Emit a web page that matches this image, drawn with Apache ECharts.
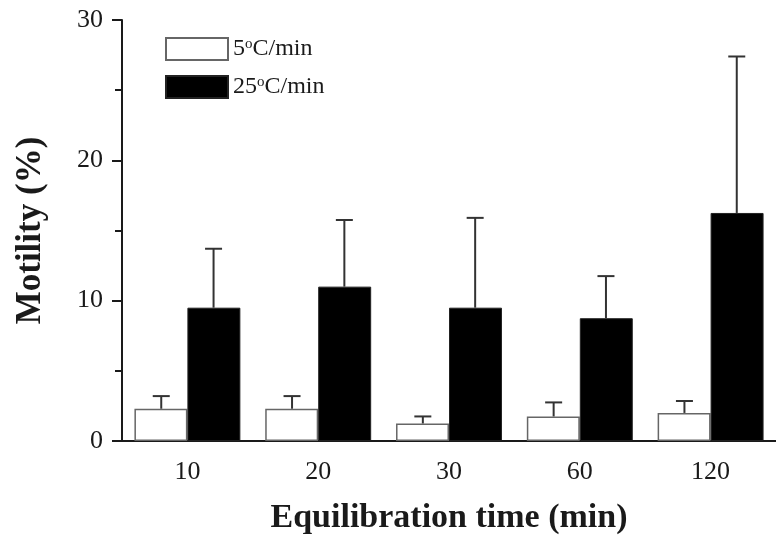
<!DOCTYPE html>
<html>
<head>
<meta charset="utf-8">
<script src="https://cdn.jsdelivr.net/npm/echarts@6/dist/echarts.min.js"></script>
<style>
  html, body { margin: 0; padding: 0; background: #fff; }
  #chart { width: 776px; height: 542px; }
</style>
</head>
<body>
<div id="chart"></div>
<script>
// 平衡时间 (min)
var categories = ['10', '20', '30', '60', '120'];
// 5°C/min
var slowMean = [2.3, 2.3, 1.25, 1.75, 2.0];
var slowSd = [0.9, 0.9, 0.5, 1.0, 0.85];
// 25°C/min
var fastMean = [9.5, 11.0, 9.5, 8.75, 16.25];
var fastSd = [4.2, 4.75, 6.4, 3.0, 11.15];

var font = '"Liberation Serif", "Times New Roman", serif';
var ink = '#1a1a1a';

// 误差线, 只画上半部分
function errorSeries(mean, sd, side) {
    return {
        type: 'custom',
        xAxisIndex: 0,
        silent: true,
        z: 5,
        data: mean.map(function (m, i) { return [i, m, m + sd[i]]; }),
        renderItem: function (params, api) {
            var band = api.size([1, 0])[0];
            var base = api.coord([api.value(0), api.value(1)]);
            var top = api.coord([api.value(0), api.value(2)]);
            var x = base[0] + side * band * 0.2;
            var cap = 8.5;
            var style = {stroke: '#333', lineWidth: 2};
            return {
                type: 'group',
                children: [
                    {type: 'line', shape: {x1: x, y1: base[1], x2: x, y2: top[1]}, style: style},
                    {type: 'line', shape: {x1: x - cap, y1: top[1], x2: x + cap, y2: top[1]}, style: style}
                ]
            };
        }
    };
}

var chart = echarts.init(document.getElementById('chart'));
chart.setOption({
    backgroundColor: '#fff',
    animation: false,
    grid: {left: 122, right: -5, top: 20, bottom: 101},
    legend: {
        left: 165,
        top: 37,
        padding: 0,
        orient: 'vertical',
        itemWidth: 62,
        itemHeight: 22,
        itemGap: 12,
        icon: 'rect',
        data: ['5°C/min', '25°C/min'],
        formatter: function (name) {
            return name === '5°C/min' ? '{n|5}{s|o}{n|C/min}' : '{n|25}{s|o}{n|C/min}';
        },
        textStyle: {
            rich: {
                n: {fontFamily: font, fontSize: 24, color: ink, lineHeight: 24},
                s: {fontFamily: font, fontSize: 15, color: ink, lineHeight: 24, verticalAlign: 'top', padding: [0, 0, 11, 0]}
            }
        }
    },
    xAxis: [{
        type: 'category',
        data: categories,
        axisLine: {lineStyle: {color: ink, width: 2}},
        axisTick: {length: 8, lineStyle: {color: ink, width: 2}},
        axisLabel: {fontFamily: font, fontSize: 26, color: ink, margin: 18},
        name: 'Equilibration time (min)',
        nameLocation: 'middle',
        nameGap: 60,
        nameTextStyle: {fontFamily: font, fontSize: 34, fontWeight: 'bold', color: ink}
    }, {
        type: 'category',
        data: categories,
        position: 'bottom',
        axisLine: {show: false},
        axisTick: {alignWithLabel: true, length: 10, lineStyle: {color: ink, width: 2}},
        axisLabel: {show: false}
    }],
    yAxis: {
        type: 'value',
        min: 0,
        max: 30,
        interval: 10,
        splitLine: {show: false},
        axisLine: {show: true, lineStyle: {color: ink, width: 2}},
        axisTick: {show: true, length: 10, lineStyle: {color: ink, width: 2}},
        minorTick: {show: true, splitNumber: 2, length: 7, lineStyle: {color: ink, width: 2}},
        axisLabel: {fontFamily: font, fontSize: 26, color: ink, margin: 19},
        name: 'Motility (%)',
        nameLocation: 'middle',
        nameGap: 74,
        nameTextStyle: {fontFamily: font, fontSize: 35, fontWeight: 'bold', color: ink}
    },
    series: [
        {
            name: '5°C/min',
            type: 'bar',
            data: slowMean,
            barGap: '0%',
            barCategoryGap: '19%',
            itemStyle: {color: '#fff', borderColor: '#666', borderWidth: 1.5}
        },
        {
            name: '25°C/min',
            type: 'bar',
            data: fastMean,
            barGap: '0%',
            barCategoryGap: '19%',
            itemStyle: {color: '#000', borderColor: '#222', borderWidth: 1}
        },
        errorSeries(slowMean, slowSd, -1),
        errorSeries(fastMean, fastSd, 1)
    ]
});
</script>
</body>
</html>
